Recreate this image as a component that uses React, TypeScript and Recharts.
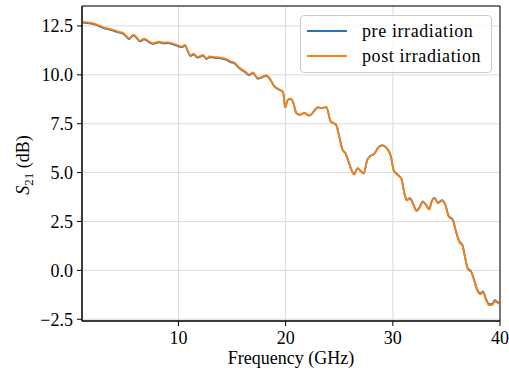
import { LineChart, Line, XAxis, YAxis, CartesianGrid, ReferenceArea, Label } from 'recharts';

// frequency sweep in GHz
const freq = [
  1.0, 1.5, 2.0, 2.5, 3.0, 3.5, 4.0, 4.5, 4.9, 5.2, 5.4, 5.8, 6.1, 6.4, 6.8, 7.0, 7.6, 8.2, 8.6, 9.0,
  9.5, 10.0, 10.3, 10.6, 10.9, 11.1, 11.4, 11.8, 12.3, 12.6, 12.9, 13.5, 14.1, 14.5, 14.9, 15.2, 15.7, 16.2, 16.6, 16.95,
  17.4, 17.9, 18.2, 18.5, 18.96, 19.4, 19.75, 19.95, 20.2, 20.5, 20.7, 21.0, 21.3, 21.75, 22.2, 22.5, 23.0, 23.3, 23.8, 24.2,
  24.7, 25.0, 25.3, 25.6, 25.9, 26.4, 26.7, 27.0, 27.3, 27.6, 27.9, 28.3, 28.6, 29.0, 29.4, 29.8, 30.1, 30.4, 30.8, 31.1,
  31.3, 31.6, 31.9, 32.2, 32.5, 32.8, 33.1, 33.4, 33.65, 33.9, 34.2, 34.6, 34.95, 35.2, 35.6, 35.9, 36.2, 36.5, 36.7, 37.0,
  37.3, 37.6, 37.9, 38.2, 38.4, 38.7, 39.0, 39.3, 39.5, 39.8, 40.0,
];

// S21 before irradiation (dB)
const preS21 = [
  12.68, 12.64, 12.6, 12.51, 12.39, 12.32, 12.24, 12.16, 12.08, 11.91, 11.83, 12.01, 11.88, 11.71, 11.81, 11.76, 11.58, 11.66, 11.61, 11.62,
  11.56, 11.46, 11.41, 11.49, 11.16, 10.96, 11.04, 10.88, 10.98, 10.81, 10.9, 10.86, 10.82, 10.76, 10.64, 10.59, 10.32, 10.14, 9.98, 10.09,
  9.8, 9.89, 9.95, 9.8, 9.4, 9.23, 9.13, 8.34, 8.71, 8.77, 8.59, 8.04, 7.95, 8.04, 7.91, 8.04, 8.34, 8.29, 8.35, 7.62,
  7.45, 6.85, 6.18, 5.98, 5.51, 4.92, 5.23, 5.08, 4.97, 5.63, 5.85, 5.99, 6.26, 6.4, 6.28, 5.87, 5.1, 4.92, 4.68, 3.9,
  3.6, 3.69, 3.41, 3.06, 3.23, 3.53, 3.35, 3.14, 3.57, 3.71, 3.46, 3.59, 3.28, 2.79, 2.59, 1.99, 1.49, 1.29, 0.79, 0.09,
  -0.04, -0.51, -1.02, -1.18, -1.07, -1.47, -1.73, -1.71, -1.53, -1.63, -1.68,
];

// S21 after irradiation (dB)
const postS21 = [
  12.72, 12.68, 12.64, 12.55, 12.43, 12.36, 12.28, 12.2, 12.12, 11.95, 11.87, 12.05, 11.92, 11.75, 11.85, 11.8, 11.62, 11.7, 11.65, 11.66,
  11.6, 11.5, 11.45, 11.53, 11.2, 11.0, 11.08, 10.92, 11.02, 10.85, 10.94, 10.9, 10.86, 10.8, 10.68, 10.63, 10.36, 10.18, 10.02, 10.13,
  9.83, 9.92, 9.98, 9.83, 9.42, 9.25, 9.15, 8.35, 8.72, 8.78, 8.6, 8.05, 7.96, 8.05, 7.92, 8.05, 8.35, 8.3, 8.35, 7.62,
  7.45, 6.85, 6.17, 5.97, 5.5, 4.9, 5.22, 5.07, 4.95, 5.62, 5.83, 5.97, 6.24, 6.38, 6.26, 5.85, 5.08, 4.9, 4.66, 3.88,
  3.57, 3.66, 3.38, 3.03, 3.2, 3.5, 3.32, 3.11, 3.54, 3.68, 3.43, 3.56, 3.25, 2.75, 2.55, 1.95, 1.45, 1.25, 0.75, 0.05,
  -0.08, -0.55, -1.06, -1.23, -1.12, -1.52, -1.78, -1.76, -1.58, -1.68, -1.73,
];

const xTicks = [10, 20, 30, 40];
const yTicks = [-2.5, 0, 2.5, 5, 7.5, 10, 12.5];

const data = freq.map((f, i) => ({ f, pre: preS21[i], post: postS21[i] }));

const FONT = '"Liberation Serif", "Times New Roman", serif';
const BLUE = '#1f77b4';
const ORANGE = '#ff7f0e';
const X_MIN = 1;
const X_MAX = 40;
const Y_MIN = -2.59;
const Y_MAX = 13.52;

const fmtY = (v: number) => v.toFixed(1).replace('-', '\u2212');

const YTitle = () => (
  <text
    x={29}
    y={165}
    transform="rotate(-90, 29, 165)"
    textAnchor="middle"
    fontFamily={FONT}
    fontSize={18}
    fill="#000"
  >
    <tspan fontStyle="italic">S</tspan>
    <tspan fontSize={13} dy={4}>21</tspan>
    <tspan dy={-4}> (dB)</tspan>
  </text>
);

const legendItems = [
  { name: 'pre irradiation', color: BLUE },
  { name: 'post irradiation', color: ORANGE },
];

export default function App() {
  return (
    <div style={{ position: 'absolute', left: 0, top: 0, width: 509, height: 376, background: '#fff' }}>
      <LineChart width={509} height={376} data={data} margin={{ top: 6, right: 9, left: 0, bottom: 0 }}>
        <CartesianGrid stroke="#dcdcdc" strokeWidth={1} vertical horizontal />
        <XAxis
          dataKey="f"
          type="number"
          domain={[X_MIN, X_MAX]}
          ticks={xTicks}
          allowDataOverflow
          height={55}
          tickSize={5}
          tickMargin={5}
          axisLine={{ stroke: '#000' }}
          tickLine={{ stroke: '#000' }}
          tick={{ fill: '#000', fontFamily: FONT, fontSize: 18 }}
        >
          <Label value="Frequency (GHz)" position="insideBottom" offset={12} fill="#000" fontFamily={FONT} fontSize={18} />
        </XAxis>
        <YAxis
          type="number"
          domain={[Y_MIN, Y_MAX]}
          ticks={yTicks}
          allowDataOverflow
          width={82}
          tickSize={5}
          tickMargin={4}
          tickFormatter={fmtY}
          axisLine={{ stroke: '#000' }}
          tickLine={{ stroke: '#000' }}
          tick={{ fill: '#000', fontFamily: FONT, fontSize: 18 }}
        >
          <Label content={<YTitle />} />
        </YAxis>
        <Line
          type="monotone"
          dataKey="pre"
          stroke={BLUE}
          strokeWidth={1.8}
          dot={false}
          isAnimationActive={false}
        />
        <Line
          type="monotone"
          dataKey="post"
          stroke={ORANGE}
          strokeWidth={1.8}
          dot={false}
          isAnimationActive={false}
        />
        <ReferenceArea x1={X_MIN} x2={X_MAX} y1={Y_MIN} y2={Y_MAX} fill="none" stroke="#000" strokeWidth={1} />
      </LineChart>
      <div
        style={{
          position: 'absolute',
          left: 300,
          top: 15,
          width: 190,
          height: 56,
          border: '1px solid #cccccc',
          borderRadius: 4,
          background: 'rgba(255,255,255,0.8)',
          fontFamily: FONT,
          fontSize: 18,
        }}
      >
        {legendItems.map((item, i) => (
          <div
            key={item.name}
            style={{ position: 'absolute', left: 6, top: 4 + i * 25, height: 22, display: 'flex', alignItems: 'center' }}
          >
            <svg width={40} height={4} style={{ display: 'block' }}>
              <line x1={0} y1={2} x2={40} y2={2} stroke={item.color} strokeWidth={1.8} />
            </svg>
            <span style={{ marginLeft: 15, letterSpacing: 0.6, whiteSpace: 'nowrap' }}>{item.name}</span>
          </div>
        ))}
      </div>
    </div>
  );
}
